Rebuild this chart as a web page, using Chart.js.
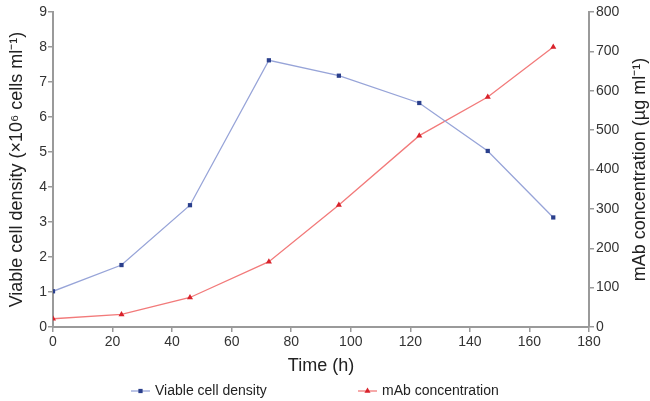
<!DOCTYPE html>
<html>
<head>
<meta charset="utf-8">
<script src="https://cdn.jsdelivr.net/npm/chart.js"></script>
<style>
  html, body { margin: 0; padding: 0; background: #fff; }
</style>
</head>
<body>
<canvas id="cultureChart" width="650" height="401"></canvas>
<script>
  // values
  const timeHours = [0, 23, 46, 72.5, 96, 123, 146, 168];
  const viableCells = [1.02, 1.77, 3.48, 7.62, 7.18, 6.4, 5.03, 3.13];   // x10^6 cells/ml
  const mabConc = [21, 32, 75, 166, 310, 486, 584, 711];                // ug/ml
  const seriesNames = ['Viable cell density', 'mAb concentration'];
  const xTitle = 'Time (h)';
  const leftTitle = 'Viable cell density (×10⁶ cells ml⁻¹)';
  const rightTitle = 'mAb concentration (µg ml⁻¹)';

  const FONT = '"Liberation Sans", Arial, Helvetica, sans-serif';
  const AXIS_GREY = '#9a9a9a';

  // right title reads bottom-to-top in the original, plus the line+marker legend
  const extraText = {
    id: 'extraText',
    afterDraw(chart) {
      const c = chart.ctx, a = chart.chartArea;
      c.save();
      c.fillStyle = '#222';
      c.font = '18px ' + FONT;
      c.textAlign = 'center';
      c.textBaseline = 'middle';
      c.translate(640, (a.top + a.bottom) / 2);
      c.rotate(-Math.PI / 2);
      c.fillText(rightTitle, 0, 0);
      c.restore();

      const spots = [131, 358];
      const legendY = 391;
      chart.data.datasets.forEach((ds, i) => {
        const x0 = spots[i];
        c.save();
        c.strokeStyle = ds.borderColor;
        c.lineWidth = ds.borderWidth;
        c.beginPath();
        c.moveTo(x0, legendY);
        c.lineTo(x0 + 19, legendY);
        c.stroke();
        c.fillStyle = ds.pointBackgroundColor;
        c.strokeStyle = ds.pointBackgroundColor;
        Chart.helpers.drawPoint(c, { pointStyle: ds.pointStyle, radius: ds.pointRadius, borderWidth: 0, rotation: 0 }, x0 + 9.5, legendY);
        c.fillStyle = '#222';
        c.font = '14px ' + FONT;
        c.textAlign = 'left';
        c.textBaseline = 'middle';
        c.fillText(ds.label, x0 + 24, legendY);
        c.restore();
      });
    }
  };

  const ctx = document.getElementById('cultureChart');
  new Chart(ctx, {
    type: 'scatter',
    data: {
      datasets: [{
        label: seriesNames[0],
        data: timeHours.map((t, i) => ({ x: t, y: viableCells[i] })),
        yAxisID: 'y',
        showLine: true,
        borderColor: '#97a4d8',
        borderWidth: 1.3,
        pointStyle: 'rect',
        pointRadius: 3,
        pointBorderWidth: 0,
        pointBackgroundColor: '#2a3f8c',
        pointBorderColor: '#2a3f8c'
      }, {
        label: seriesNames[1],
        data: timeHours.map((t, i) => ({ x: t, y: mabConc[i] })),
        yAxisID: 'y2',
        showLine: true,
        borderColor: '#f27a7a',
        borderWidth: 1.3,
        pointStyle: 'triangle',
        pointRadius: 3.5,
        pointBorderWidth: 0,
        pointBackgroundColor: '#d8222b',
        pointBorderColor: '#d8222b'
      }]
    },
    options: {
      responsive: false,
      animation: false,
      devicePixelRatio: 1,
      layout: { padding: { top: 12, left: 0, right: 0, bottom: 0 } },
      plugins: {
        legend: { display: false },
        tooltip: { enabled: false }
      },
      scales: {
        x: {
          type: 'linear',
          min: 0,
          max: 180,
          ticks: { stepSize: 20, color: '#333', font: { family: FONT, size: 14 }, padding: 2 },
          grid: { display: true, drawOnChartArea: false, drawTicks: true, tickLength: 5, color: AXIS_GREY, lineWidth: 1.5 },
          border: { color: AXIS_GREY, width: 2 },
          title: { display: true, text: xTitle, color: '#222', font: { family: FONT, size: 18 }, padding: { top: 0, bottom: 24 } },
          afterFit: s => { s.height = 74; }
        },
        y: {
          position: 'left',
          min: 0,
          max: 9,
          ticks: { stepSize: 1, color: '#333', font: { family: FONT, size: 14 }, padding: 1 },
          grid: { display: true, drawOnChartArea: false, drawTicks: true, tickLength: 5, color: AXIS_GREY, lineWidth: 1.5 },
          border: { color: AXIS_GREY, width: 2 },
          title: { display: true, text: leftTitle, color: '#222', font: { family: FONT, size: 18 }, padding: { top: 6, bottom: 0 } },
          afterFit: s => { s.width = 53; }
        },
        y2: {
          position: 'right',
          min: 0,
          max: 800,
          ticks: { stepSize: 100, color: '#333', font: { family: FONT, size: 14 }, padding: 2 },
          grid: { display: true, drawOnChartArea: false, drawTicks: true, tickLength: 5, color: AXIS_GREY, lineWidth: 1.5 },
          border: { color: AXIS_GREY, width: 2 },
          afterFit: s => { s.width = 61; }
        }
      }
    },
    plugins: [extraText]
  });
</script>
</body>
</html>
